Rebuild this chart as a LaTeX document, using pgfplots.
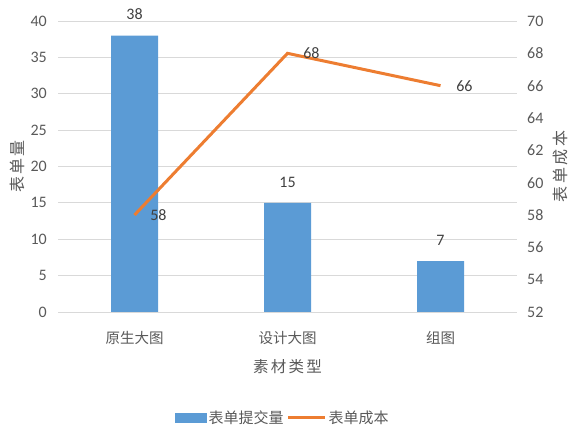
\documentclass[border=0pt]{standalone}
\usepackage{fontspec}
\setmainfont{Carlito}
\newfontfamily\cjk{Noto Sans CJK SC}
\newfontfamily\cjkwide[LetterSpace=15]{Noto Sans CJK SC}
\usepackage{pgfplots}
\pgfplotsset{compat=1.18}
\definecolor{barblue}{HTML}{5B9BD5}
\definecolor{lineorange}{HTML}{ED7D31}
\definecolor{txt}{HTML}{595959}
\definecolor{gridc}{HTML}{D9D9D9}
\begin{document}
\begin{tikzpicture}
\useasboundingbox (-58bp,-120bp) rectangle (525bp,312bp);
\pgfplotsset{
  common/.style={
    at={(0,0)}, anchor=south west, scale only axis,
    width=459bp, height=291bp,
    xmin=-0.5, xmax=2.5,
    axis line style={draw=none},
    major tick length=0pt,
    /pgf/number format/assume math mode=true,
    tick label style={text=txt},
  }
}
\begin{axis}[common,
  ymin=0, ymax=40, ytick={0,5,...,40},
  xtick={0,1,2},
  xticklabels={原生大图,设计大图,组图},
  xticklabel style={font=\cjk\fontsize{14.5bp}{16bp}\selectfont, anchor=center, yshift=-26bp},
  yticklabel style={font=\fontsize{16bp}{18bp}\selectfont, anchor=east, inner sep=0pt, xshift=-11bp},
  ymajorgrids, grid style={gridc, line width=0.9bp},
  xlabel={素材类型},
  xlabel style={font=\cjkwide\fontsize{15.5bp}{17bp}\selectfont, text=txt, at={(axis description cs:0.5,-0.189)}, anchor=center},
  ylabel={表单量},
  ylabel style={font=\cjkwide\fontsize{16bp}{17bp}\selectfont, text=txt, at={(axis description cs:-0.089,0.5)}, anchor=center},
  ybar, bar width=47bp,
  nodes near coords,
  nodes near coords style={font=\fontsize{16bp}{18bp}\selectfont, text=black!75, yshift=12bp},
]
\addplot[fill=barblue, draw=none] coordinates {(0,38) (1,15) (2,7)};
\end{axis}
\begin{axis}[common,
  ymin=52, ymax=70, ytick={52,54,...,70},
  hide x axis,
  yticklabel pos=right,
  yticklabel style={font=\fontsize{16bp}{18bp}\selectfont, anchor=west, inner sep=0pt, xshift=10bp},
  ylabel={表单成本},
  ylabel style={font=\cjkwide\fontsize{16bp}{17bp}\selectfont, text=txt, at={(axis description cs:1.094,0.5)}, anchor=center},
  legend style={at={(axis description cs:0.49,-0.364)}, anchor=center, draw=none, fill=none,
    font=\cjk\fontsize{15bp}{17bp}\selectfont, text=txt, legend columns=-1,
    /tikz/every even column/.append style={column sep=1bp}},
]
\addlegendimage{legend image code/.code={\fill[barblue] (0bp,-4.5bp) rectangle (31bp,4.5bp);}}
\addlegendentry{表单提交量}
\addplot[lineorange, line width=3bp,
  legend image code/.code={\draw[lineorange, line width=3bp] (0bp,0bp) -- (37bp,0bp);},
  nodes near coords,
  nodes near coords style={font=\fontsize{16bp}{18bp}\selectfont, text=black!75, anchor=west, xshift=11bp}]
  coordinates {(0,58) (1,68) (2,66)};
\addlegendentry{表单成本}
\end{axis}
\end{tikzpicture}
\end{document}
